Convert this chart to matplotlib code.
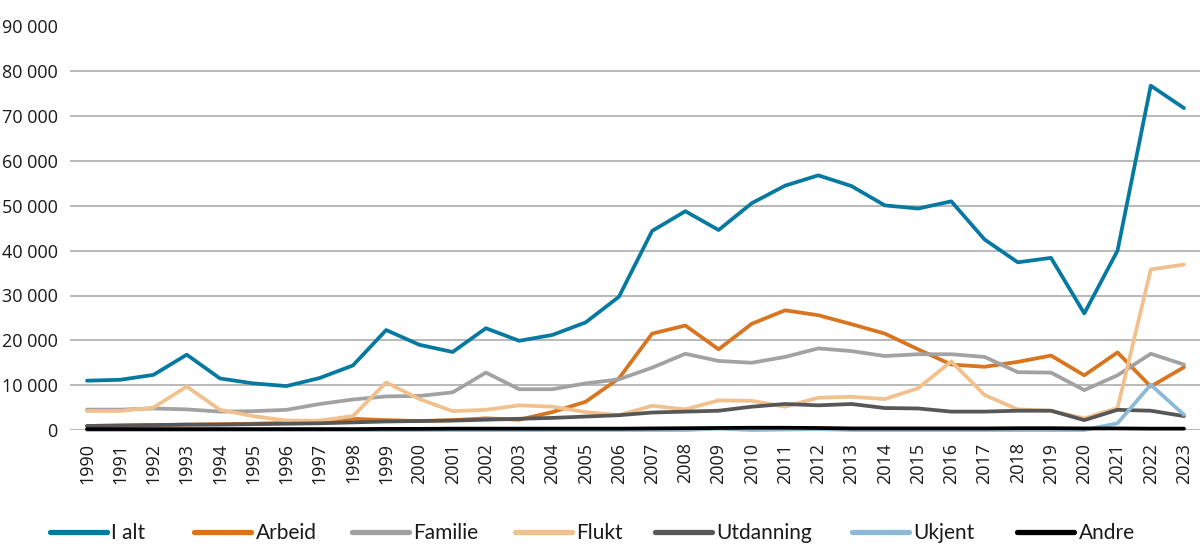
import matplotlib
matplotlib.use("Agg")
import matplotlib.pyplot as plt
from matplotlib.ticker import FuncFormatter

years = list(range(1990, 2024))

i_alt = [11000, 11200, 12300, 16800, 11500, 10400, 9800, 11600, 14400, 22300,
         19000, 17400, 22700, 19900, 21200, 24000, 29700, 44400, 48800, 44600,
         50600, 54500, 56800, 54400, 50100, 49400, 51000, 42500, 37400, 38400,
         26000, 40000, 76800, 71800]
arbeid = [900, 1000, 1100, 1200, 1300, 1400, 1600, 1700, 2500, 2200,
          2000, 2200, 2600, 2300, 4000, 6300, 11500, 21500, 23300, 18000,
          23700, 26700, 25600, 23600, 21500, 18000, 14600, 14100, 15200, 16600,
          12200, 17300, 9700, 14000]
familie = [4550, 4550, 4800, 4600, 4100, 4200, 4500, 5800, 6800, 7500,
           7600, 8400, 12800, 9100, 9100, 10400, 11300, 13900, 17000, 15400,
           15000, 16300, 18200, 17600, 16500, 16900, 16900, 16300, 12900, 12800,
           8900, 12200, 17000, 14600]
flukt = [4250, 4250, 5000, 9700, 4500, 3100, 2100, 2100, 3100, 10600,
         6900, 4200, 4500, 5500, 5200, 4000, 3300, 5400, 4600, 6600,
         6500, 5200, 7200, 7400, 6900, 9300, 15300, 7800, 4600, 4300,
         2600, 4900, 35800, 36900]
utdanning = [900, 1000, 1100, 1200, 1200, 1300, 1400, 1500, 1700, 1900,
             2000, 2100, 2300, 2500, 2700, 3000, 3300, 3900, 4100, 4300,
             5200, 5800, 5500, 5800, 4900, 4800, 4100, 4100, 4300, 4300,
             2200, 4500, 4300, 3100]
ukjent = [0, 0, 0, 0, 0, 0, 0, 0, 0, 0,
          0, 0, 0, 0, 0, 0, 0, 0, 0, 300,
          0, 100, 200, 0, 0, 0, 0, 0, 0, 0,
          0, 1500, 10100, 3400]
andre = [200, 200, 200, 200, 200, 200, 200, 200, 200, 250,
         250, 300, 300, 300, 300, 300, 300, 350, 400, 450,
         500, 500, 450, 350, 350, 350, 350, 350, 400, 400,
         350, 350, 300, 300]

series = [
    ("I alt", i_alt, "#0679a1"),
    ("Arbeid", arbeid, "#d9741f"),
    ("Familie", familie, "#a2a2a2"),
    ("Flukt", flukt, "#f1c18d"),
    ("Utdanning", utdanning, "#575757"),
    ("Ukjent", ukjent, "#8cb9d8"),
    ("Andre", andre, "#000000"),
]
# left edge (figure px) of each legend entry's line sample
legend_x = [50, 194, 352, 515, 655, 852, 1017]

tick_font = ["Open Sans", "DejaVu Sans"]
legend_font = ["Lato", "DejaVu Sans"]

fig = plt.figure(figsize=(12, 5.58), dpi=100)
ax = fig.add_axes([70/1200, 1 - 430/558, 1130/1200, (430 - 26.5)/558])

lines = []
for name, vals, col in series:
    ln, = ax.plot(years, vals, color=col, lw=2.7, label=name, clip_on=False,
                  solid_capstyle="round", solid_joinstyle="round", zorder=3)
    lines.append(ln)

ax.set_ylim(0, 90000)
ax.set_xlim(1990 - 17/33.24, 2023 + 16/33.24)
ax.set_yticks(range(0, 90001, 10000))
ax.yaxis.set_major_formatter(FuncFormatter(lambda v, p: f"{int(v):,}".replace(",", " ")))
ax.set_xticks(years)
ax.set_xticklabels([str(y) for y in years], rotation=90, family=tick_font, fontsize=13)
for lab in ax.get_yticklabels():
    lab.set_family(tick_font)
    lab.set_fontsize(13)
ax.grid(axis="y", color="#a6a6a6", lw=1.1, zorder=0)
ax.tick_params(axis="both", length=0, colors="#1a1a1a")
ax.tick_params(axis="y", pad=9)
ax.tick_params(axis="x", pad=9)
for s in ax.spines.values():
    s.set_visible(False)

for ln, (name, _, _), lx in zip(lines, series, legend_x):
    leg = fig.legend(handles=[ln], labels=[name], loc="center left",
                     bbox_to_anchor=(lx/1200, 1 - 533/558),
                     frameon=False, borderpad=0, borderaxespad=0,
                     handlelength=2.75, handletextpad=0.2,
                     prop={"family": legend_font, "size": 15})
    for h in leg.get_lines():
        h.set_linewidth(3.8)
        h.set_solid_capstyle("round")
    for t in leg.get_texts():
        t.set_color("#1a1a1a")

fig.savefig("out.png", dpi=100)
